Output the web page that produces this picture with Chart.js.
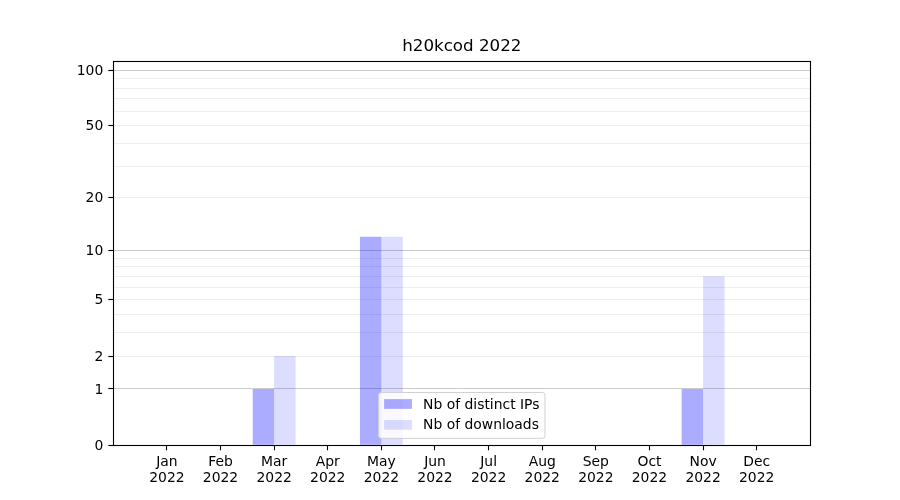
<!DOCTYPE html>
<html>
<head>
<meta charset="utf-8">
<title>h20kcod 2022</title>
<script src="https://cdn.jsdelivr.net/npm/chart.js@4.4.1/dist/chart.umd.min.js"></script>
<style>
  html, body { margin: 0; padding: 0; background: #fff; }
  #wrap { width: 900px; height: 500px; }
</style>
</head>
<body>
<div id="wrap"><canvas id="myBarChart" width="900" height="500"></canvas></div>
<script>
//data

const chartTitle = 'h20kcod 2022';
const months = ['Jan', 'Feb', 'Mar', 'Apr', 'May', 'Jun', 'Jul', 'Aug', 'Sep', 'Oct', 'Nov', 'Dec'];
const yearLabel = '2022';
const ipLabel = 'Nb of distinct IPs';
const downloadLabel = 'Nb of downloads';
const distinctIps = [0, 0, 1, 0, 12, 0, 0, 0, 0, 0, 1, 0];
const downloads = [0, 0, 2, 0, 12, 0, 0, 0, 0, 0, 7, 0];
const yTickLabels = [0, 1, 2, 5, 10, 20, 50, 100];
const yMajorLines = [1, 10, 100];
const yMinorLines = [2, 3, 4, 5, 6, 7, 8, 9, 20, 30, 40, 50, 60, 70, 80, 90];
const yMax = 112.6;

const fontFamily = '"DejaVu Sans", sans-serif';

//scale: log10(v + 1), like the one used for the original picture

class Log1pScale extends Chart.Scale {
  static id = 'log1p';
  static defaults = {};

  determineDataLimits() {
    const { min, max } = this.getMinMax(true);
    this.min = Number.isFinite(this.options.min) ? this.options.min : Math.max(0, min);
    this.max = Number.isFinite(this.options.max) ? this.options.max : max;
  }
  buildTicks() {
    let all = yTickLabels.concat(yMinorLines).concat(yMajorLines);
    all = all.filter((v, i) => all.indexOf(v) === i).sort((a, b) => a - b);
    return all.map(v => ({ value: v }));
  }
  configure() {
    super.configure();
    this._startValue = Math.log10(this.min + 1);
    this._valueRange = Math.log10(this.max + 1) - this._startValue;
  }
  getLabelForValue(value) {
    return String(value);
  }
  getPixelForValue(value) {
    if (value === undefined || value === null || isNaN(value)) return NaN;
    return this.getPixelForDecimal((Math.log10(value + 1) - this._startValue) / this._valueRange);
  }
  getValueForPixel(pixel) {
    return Math.pow(10, this._startValue + this.getDecimalForPixel(pixel) * this._valueRange) - 1;
  }
}
Chart.register(Log1pScale);

//plugins

// black frame on the four sides, drawn over the bars
const framePlugin = {
  id: 'frame',
  afterDatasetsDraw(chart) {
    const a = chart.chartArea;
    const ctx = chart.ctx;
    ctx.save();
    ctx.strokeStyle = '#000';
    ctx.lineWidth = 1.1;
    ctx.strokeRect(Math.round(a.left) + 0.5, Math.round(a.top) + 0.5,
      Math.round(a.right) - Math.round(a.left), Math.round(a.bottom) - Math.round(a.top));
    ctx.restore();
  }
};

// matplotlib style legend, lower center inside the axes
const boxLegendPlugin = {
  id: 'boxLegend',
  afterDraw(chart) {
    const ctx = chart.ctx;
    const a = chart.chartArea;
    const fs = 13.9;
    const pad = 0.4 * fs, handleW = 2 * fs, handleH = 0.7 * fs, gap = 0.8 * fs, spacing = 0.5 * fs;
    const sets = chart.data.datasets;
    ctx.save();
    ctx.font = fs + 'px ' + fontFamily;
    let textW = 0;
    sets.forEach(ds => { textW = Math.max(textW, ctx.measureText(ds.label).width); });
    const w = pad * 2 + handleW + gap + textW;
    const h = pad * 2 + sets.length * fs + (sets.length - 1) * spacing;
    const x = (a.left + a.right) / 2 - w / 2;
    const y = a.bottom - 0.5 * fs - h;
    ctx.beginPath();
    ctx.roundRect(x, y, w, h, 0.2 * fs);
    ctx.fillStyle = 'rgba(255,255,255,0.8)';
    ctx.fill();
    ctx.strokeStyle = '#d0d0d0';
    ctx.lineWidth = 1;
    ctx.stroke();
    ctx.textBaseline = 'middle';
    ctx.textAlign = 'left';
    sets.forEach((ds, i) => {
      const cy = y + pad + fs / 2 + i * (fs + spacing) - 1;
      ctx.fillStyle = ds.backgroundColor;
      ctx.fillRect(x + pad, cy - handleH / 2, handleW, handleH);
      ctx.fillStyle = '#000';
      ctx.fillText(ds.label, x + pad + handleW + gap, cy + 1);
    });
    ctx.restore();
  }
};

//chart

const ctx = document.getElementById('myBarChart').getContext('2d');
let myBarChart = new Chart(ctx, {
  type: 'bar',
  data: {
    datasets: [
      {
        label: ipLabel,
        data: distinctIps.map((v, i) => ({ x: i, y: v })),
        backgroundColor: 'rgba(0,0,255,0.33)',
        borderWidth: 0
      },
      {
        label: downloadLabel,
        data: downloads.map((v, i) => ({ x: i, y: v })),
        backgroundColor: 'rgba(0,0,255,0.135)',
        borderWidth: 0
      }
    ]
  },
  options: {
    responsive: false,
    animation: false,
    devicePixelRatio: 1,
    categoryPercentage: 0.8,
    barPercentage: 1.0,
    layout: { padding: { left: 0, right: 89.7, top: 0, bottom: 0 } },
    plugins: {
      legend: { display: false },
      tooltip: { enabled: false },
      title: {
        display: true,
        text: chartTitle,
        fullSize: false,
        color: '#000',
        font: { family: fontFamily, size: 16.7, weight: 'normal', lineHeight: '20px' },
        padding: { top: 36.3, bottom: 4.4 }
      }
    },
    scales: {
      x: {
        type: 'linear',
        min: -1,
        max: 12,
        offset: false,
        afterBuildTicks: (scale) => { scale.ticks = months.map((m, i) => ({ value: i })); },
        afterFit: (scale) => { scale.height = 54.7; },
        border: { display: false },
        grid: { display: true, offset: false, drawOnChartArea: false, tickLength: 5, tickWidth: 1.1, tickColor: '#000' },
        ticks: {
          color: '#000',
          padding: 4.5,
          maxRotation: 0,
          autoSkip: false,
          font: { family: fontFamily, size: 13.9, lineHeight: '16px' },
          callback: (v) => [months[v], yearLabel]
        }
      },
      y: {
        type: 'log1p',
        min: 0,
        max: yMax,
        afterFit: (scale) => { scale.width = 113.3; },
        border: { display: false },
        grid: {
          lineWidth: 1,
          color: (c) => {
            const v = c.tick ? c.tick.value : null;
            if (yMajorLines.includes(v)) return '#cbcbcb';
            if (yMinorLines.includes(v)) return '#eeeeee';
            return 'rgba(0,0,0,0)';
          },
          tickLength: 5,
          tickWidth: 1.1,
          tickColor: (c) => (c.tick && yTickLabels.includes(c.tick.value)) ? '#000' : 'rgba(0,0,0,0)'
        },
        ticks: {
          color: '#000',
          padding: 5,
          labelOffset: 1,
          autoSkip: false,
          font: { family: fontFamily, size: 13.9 },
          callback: (v) => yTickLabels.includes(v) ? String(v) : ''
        }
      }
    }
  },
  plugins: [framePlugin, boxLegendPlugin]
});
</script>
</body>
</html>
